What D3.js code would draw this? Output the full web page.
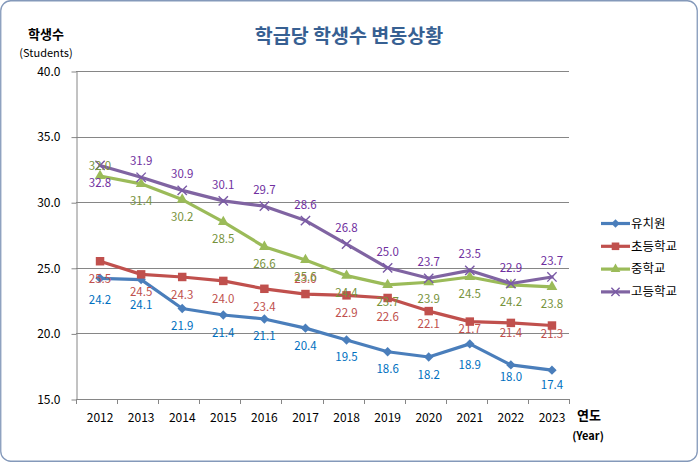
<!DOCTYPE html>
<html><head><meta charset="utf-8">
<script src="https://cdn.jsdelivr.net/npm/d3@7"></script>
<style>html,body{margin:0;padding:0;background:#fff;}svg{display:block;font-family:'Noto Sans CJK KR','Noto Sans',sans-serif;}</style>
</head><body><div id="chart"></div>
<script>
// ---- data ----
const years = ['2012','2013','2014','2015','2016','2017','2018','2019','2020','2021','2022','2023'];
const yTicks = [15, 20, 25, 30, 35, 40];
const seriesNames = ['유치원', '초등학교', '중학교', '고등학교'];
// plotted marker values (as drawn)
const kinder = [24.2, 24.1, 21.9, 21.4, 21.1, 20.4, 19.5, 18.6, 18.2, 19.2, 17.6, 17.2];
const elem   = [25.5, 24.5, 24.3, 24.0, 23.4, 23.0, 22.9, 22.7, 21.7, 20.9, 20.8, 20.6];
const middle = [32.0, 31.4, 30.2, 28.5, 26.6, 25.6, 24.4, 23.7, 23.9, 24.3, 23.7, 23.55];
const high   = [32.8, 31.9, 30.9, 30.1, 29.7, 28.6, 26.8, 25.0, 24.2, 24.8, 23.8, 24.3];
// data label texts (as printed)
const kinderLabels = ['24.2','24.1','21.9','21.4','21.1','20.4','19.5','18.6','18.2','18.9','18.0','17.4'];
const elemLabels   = ['25.5','24.5','24.3','24.0','23.4','23.0','22.9','22.6','22.1','21.7','21.4','21.3'];
const middleLabels = ['32.0','31.4','30.2','28.5','26.6','25.6','24.4','23.7','23.9','24.5','24.2','23.8'];
const highLabels   = ['32.8','31.9','30.9','30.1','29.7','28.6','26.8','25.0','23.7','23.5','22.9','23.7'];

// ---- styles ----
const series = [
  {name: seriesNames[0], values: kinder, labels: kinderLabels, line: '#4A7EBB', label: '#0070C0', marker: 'diamond', off: 17.5, anchorText: true, flip: {'2012': 22, '2013': 25.5}},
  {name: seriesNames[1], values: elem,   labels: elemLabels,   line: '#C0504D', label: '#C0504D', marker: 'square',  off: 18,   anchorText: true, flip: {'2017': -15}},
  {name: seriesNames[2], values: middle, labels: middleLabels, line: '#9BBB59', label: '#77933C', marker: 'triangle', off: 17,  anchorText: false, flip: {'2012': -10}},
  {name: seriesNames[3], values: high,   labels: highLabels,   line: '#8064A2', label: '#7030A0', marker: 'x',       off: -16,  anchorText: false, flip: {'2012': 18}}
];

const W = 698, H = 462;
const svg = d3.select('#chart').append('svg').attr('width', W).attr('height', H);
svg.append('rect').attr('x', 0.75).attr('y', 0.75).attr('width', W - 1.5).attr('height', H - 1.5)
  .attr('rx', 10).attr('fill', '#fff').attr('stroke', '#8499BA').attr('stroke-width', 1.3);

const pLeft = 76, pRight = 569, pTop = 71, pBottom = 399;
const x = d3.scaleBand().domain(years).range([pLeft, pRight]);
const shift = 3.5;
const px = d => x(d) + x.bandwidth() / 2 + shift;
const y = d3.scaleLinear().domain([15, 40]).range([pBottom, pTop]);

// gridlines
svg.append('g').selectAll('line').data(yTicks.filter(t => t > 15)).join('line')
  .attr('x1', pLeft).attr('x2', pRight)
  .attr('y1', d => Math.round(y(d)) + 0.5).attr('y2', d => Math.round(y(d)) + 0.5)
  .attr('stroke', '#868686').attr('stroke-width', 1);

// y axis
const yAxis = svg.append('g').attr('transform', `translate(${pLeft + 0.5},0.5)`)
  .call(d3.axisLeft(y).tickValues(yTicks).tickSize(5).tickSizeOuter(0).tickPadding(11).tickFormat(d3.format('.1f')));
yAxis.select('.domain').attr('stroke', '#868686');
yAxis.selectAll('.tick line').attr('stroke', '#868686');
yAxis.selectAll('.tick text').attr('font-size', 12).attr('fill', '#000').attr('font-family', "'Noto Sans CJK KR',sans-serif");

// x axis
const xAxis = svg.append('g').attr('transform', `translate(${shift},${pBottom + 0.5})`)
  .call(d3.axisBottom(x).tickSize(0).tickPadding(14));
xAxis.select('.domain').remove();
xAxis.selectAll('.tick text').attr('font-size', 12).attr('fill', '#000').attr('font-family', "'Noto Sans CJK KR',sans-serif");
svg.append('line').attr('x1', pLeft).attr('x2', pRight).attr('y1', pBottom + 0.5).attr('y2', pBottom + 0.5).attr('stroke', '#868686');
svg.append('g').selectAll('line').data(years.map(d => x(d)).concat([x.range()[1]])).join('line')
  .attr('x1', d => Math.round(d) + 0.5).attr('x2', d => Math.round(d) + 0.5)
  .attr('y1', pBottom).attr('y2', pBottom + 5).attr('stroke', '#868686');

// markers
function marker(sel, type, color, cx, cy, k) {
  k = k || 1;
  const t = `translate(${cx},${cy})`;
  if (type === 'diamond') {
    sel.append('path').attr('d', d3.symbol(d3.symbolSquare, 44 * k)()).attr('fill', color).attr('transform', t + ' rotate(45)');
  } else if (type === 'square') {
    sel.append('path').attr('d', d3.symbol(d3.symbolSquare, 72 * k)()).attr('fill', color).attr('transform', t);
  } else if (type === 'triangle') {
    sel.append('path').attr('d', d3.symbol(d3.symbolTriangle, 50 * k)()).attr('fill', color).attr('transform', t);
  } else {
    sel.append('path').attr('d', d3.symbol(d3.symbolX, 58 * k)()).attr('fill', 'none').attr('stroke', color)
      .attr('stroke-width', 1.4).attr('transform', t);
  }
}

const line = d3.line().x(d => px(d.year)).y(d => y(d.v));
series.forEach(s => {
  const pts = years.map((yr, i) => ({year: yr, v: s.values[i], t: s.labels[i]}));
  const g = svg.append('g');
  g.append('path').datum(pts).attr('d', line).attr('fill', 'none').attr('stroke', s.line)
    .attr('stroke-width', 3.2).attr('stroke-linejoin', 'round').attr('stroke-linecap', 'round');
  pts.forEach(p => marker(g, s.marker, s.marker === 'x' ? '#7A5AA6' : s.line, px(p.year), y(p.v)));
});

// data labels (drawn after lines)
series.forEach(s => {
  svg.append('g').selectAll('text').data(years.map((yr, i) => ({year: yr, v: s.values[i], t: s.labels[i]}))).join('text')
    .attr('x', d => px(d.year))
    .attr('y', d => {
      const base = s.anchorText ? y(parseFloat(d.t)) : y(d.v);
      const off = (d.year in s.flip) ? s.flip[d.year] : s.off;
      return base + off;
    })
    .attr('dy', '0.35em').attr('text-anchor', 'middle')
    .attr('font-size', 11.5).attr('fill', s.label).text(d => d.t);
});

// titles
svg.append('text').attr('x', 349).attr('y', 43).attr('text-anchor', 'middle')
  .attr('font-size', 19.5).attr('font-weight', 'bold').attr('fill', '#376092').text('학급당 학생수 변동상황');
svg.append('text').attr('x', 46).attr('y', 39).attr('text-anchor', 'middle')
  .attr('font-size', 13).attr('font-weight', 'bold').attr('fill', '#000').text('학생수');
svg.append('text').attr('x', 46).attr('y', 57).attr('text-anchor', 'middle')
  .attr('font-size', 11).attr('fill', '#000').text('(Students)');
svg.append('text').attr('x', 589).attr('y', 420).attr('text-anchor', 'middle')
  .attr('font-size', 13).attr('font-weight', 'bold').attr('fill', '#000').text('연도');
svg.append('text').attr('x', 588).attr('y', 440).attr('text-anchor', 'middle')
  .attr('font-size', 11).attr('font-weight', 'bold').attr('fill', '#000').text('(Year)');

// legend
const lg = svg.append('g');
series.forEach((s, i) => {
  const ly = 223.5 + i * 22.8;
  lg.append('line').attr('x1', 601).attr('x2', 630).attr('y1', ly).attr('y2', ly)
    .attr('stroke', s.line).attr('stroke-width', 3.2);
  marker(lg, s.marker, s.marker === 'x' ? '#7A5AA6' : s.line, 615.5, ly, 0.8);
  lg.append('text').attr('x', 631).attr('y', ly).attr('dy', '0.35em')
    .attr('font-size', 12.5).attr('fill', '#000').text(s.name);
});
</script></body></html>
